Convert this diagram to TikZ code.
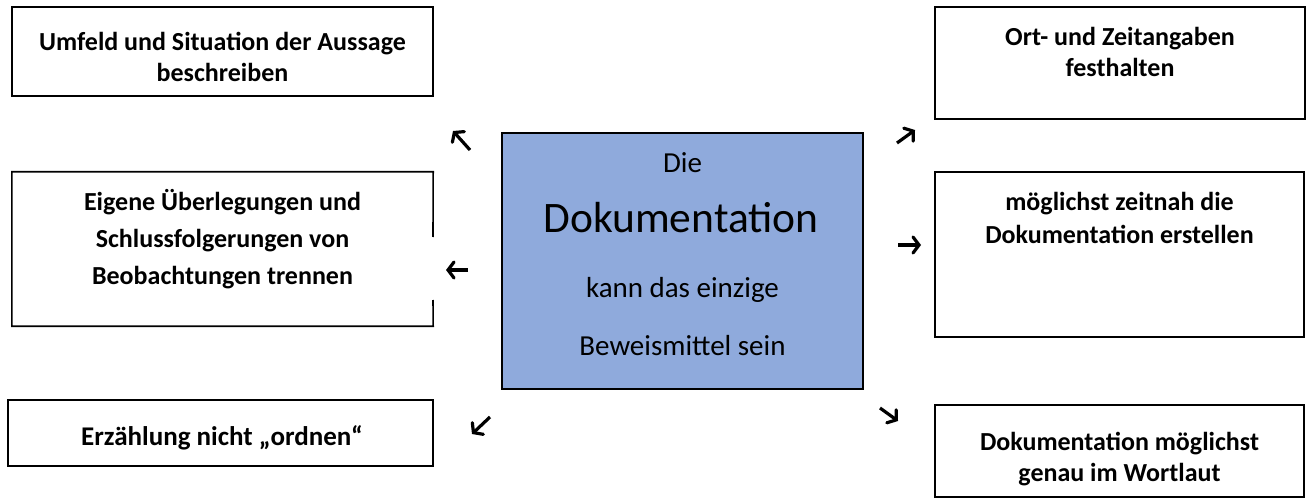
\documentclass[tikz,border=0pt]{standalone}
\usepackage{fontspec}
\setmainfont{Carlito}
\usetikzlibrary{arrows.meta}
\definecolor{centerblue}{HTML}{8FAADC}
\begin{document}
\begin{tikzpicture}[x=1pt,y=-1pt,
  box/.style={draw=black, line width=1.6pt, rectangle, inner sep=0pt},
  plainbox/.style={rectangle, inner sep=0pt},
  outline/.style={draw=black, line width=1.6pt},
  boxtext/.style={font=\bfseries\fontsize{26}{31}\selectfont, align=center, anchor=base, inner sep=0pt},
  midtext/.style={font=\fontsize{29}{34}\selectfont, anchor=base, inner sep=0pt},
  pointer/.style={line width=3.2pt, -{Straight Barb[length=6pt,width=16pt,line cap=round]}}
]
\useasboundingbox (0,0) rectangle (1307,500);
\fill[white] (0,0) rectangle (1307,500);

% boxes
\node[box, minimum width=421pt, minimum height=89pt] (umfeld) at (222.5,51.5) {};
\node[box, minimum width=370pt, minimum height=112pt] (ort) at (1120,63) {};
\node[plainbox, minimum width=421pt, minimum height=154pt] (eigene) at (222.5,249) {};
\node[box, minimum width=369pt, minimum height=165pt] (zeitnah) at (1119.5,254.5) {};
\node[box, minimum width=425pt, minimum height=66pt] (erz) at (220.5,433) {};
\node[box, minimum width=369pt, minimum height=92pt] (wortlaut) at (1119.5,451) {};
\node[box, fill=centerblue, minimum width=361pt, minimum height=256pt] (doku) at (682.5,261) {};

% outline of the left middle box, open where the arrow sits
\coordinate (gaptop) at (433,237);
\coordinate (gapbot) at (433,300);
\draw[outline] (gaptop) -- (eigene.north east) -- (eigene.north west) -- (eigene.south west) -- (eigene.south east) -- (gapbot);

% texts (anchor base = baseline of the last line)
\node[boxtext] (tumfeld) at (222.5,82) {Umfeld und Situation der Aussage\\beschreiben};
\node[boxtext] (tort) at (1120,77) {Ort- und Zeitangaben\\festhalten};
\node[boxtext, font=\bfseries\fontsize{26}{37}\selectfont] (teigene) at (222.5,284) {Eigene Überlegungen und\\Schlussfolgerungen von\\Beobachtungen trennen};
\node[boxtext, font=\bfseries\fontsize{26}{33}\selectfont] (tzeitnah) at (1119.5,243) {möglichst zeitnah die\\Dokumentation erstellen};
\node[boxtext, font=\bfseries\fontsize{27}{31}\selectfont] (terz) at (222,445) {Erzählung nicht „ordnen“};
\node[boxtext] (twortlaut) at (1119.5,481) {Dokumentation möglichst\\genau im Wortlaut};

\node[midtext] (tdie) at (682.5,173) {Die};
\node[midtext, font=\fontsize{43.5}{48}\selectfont] (tdoku) at (681,232) {Dokumentation};
\node[midtext] (tkann) at (682.5,297) {kann das einzige};
\node[midtext] (tbeweis) at (682.5,355) {Beweismittel sein};

% arrows
\coordinate (a1s) at (470,150); \coordinate (a1e) at (453,131);
\coordinate (a2s) at (897,143); \coordinate (a2e) at (915,130);
\coordinate (a3s) at (898,245); \coordinate (a3e) at (921,245);
\coordinate (a4s) at (468,270); \coordinate (a4e) at (446,270);
\coordinate (a5s) at (490,417); \coordinate (a5e) at (472,434);
\coordinate (a6s) at (880,408); \coordinate (a6e) at (898,421);
\draw[pointer] (a1s) -- (a1e);
\draw[pointer] (a2s) -- (a2e);
\draw[pointer] (a3s) -- (a3e);
\draw[pointer] (a4s) -- (a4e);
\draw[pointer] (a5s) -- (a5e);
\draw[pointer] (a6s) -- (a6e);
\end{tikzpicture}
\end{document}
